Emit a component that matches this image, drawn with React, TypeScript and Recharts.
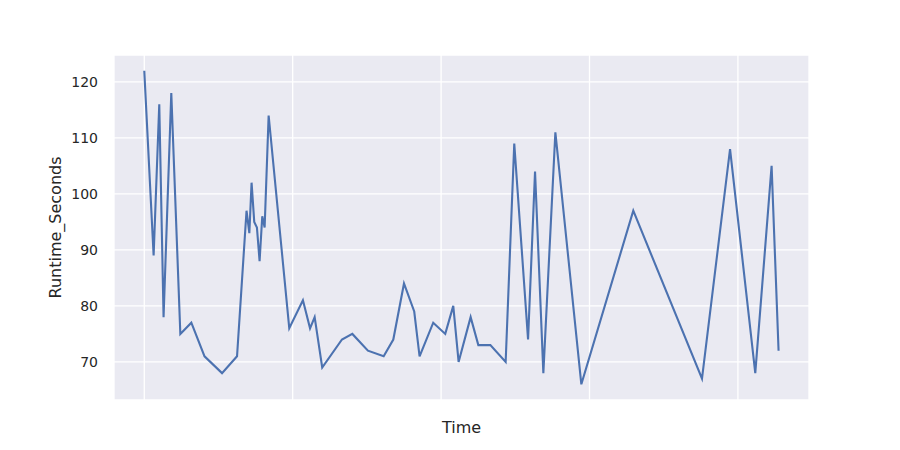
import React from "react";
import { LineChart, Line, XAxis, YAxis, CartesianGrid } from "recharts";

const time = [0, 0.063, 0.101, 0.13, 0.182, 0.243, 0.317, 0.406, 0.524, 0.625, 0.689, 0.708, 0.723, 0.741, 0.759, 0.777, 0.795, 0.811, 0.838, 0.977, 1.069, 1.117, 1.148, 1.199, 1.332, 1.402, 1.507, 1.613, 1.678, 1.75, 1.819, 1.855, 1.947, 2.028, 2.082, 2.118, 2.199, 2.251, 2.332, 2.435, 2.493, 2.586, 2.633, 2.689, 2.77, 2.945, 3.295, 3.758, 3.947, 4.117, 4.227, 4.274];

const runtimeSeconds = [122, 89, 116, 78, 118, 75, 77, 71, 68, 71, 97, 93, 102, 95, 94, 88, 96, 94, 114, 76, 81, 76, 78, 69, 74, 75, 72, 71, 74, 84, 79, 71, 77, 75, 80, 70, 78, 73, 73, 70, 109, 74, 104, 68, 111, 66, 97, 67, 108, 68, 105, 72];

const xTicks = [0, 1, 2, 3, 4];
const yTicks = [70, 80, 90, 100, 110, 120];

const data = time.map((t, i) => ({ time: t, runtime: runtimeSeconds[i] }));

const FONT = "DejaVu Sans";

const EmptyTick = () => <g />;

export default function App() {
  return (
    <div style={{ position: "absolute", left: 0, top: 0, width: 900, height: 450, background: "#ffffff" }}>
      <LineChart width={900} height={450} data={data} margin={{ top: 55, right: 91, bottom: 0, left: 0 }}>
        <CartesianGrid fill="#EAEAF2" fillOpacity={1} stroke="#ffffff" strokeWidth={1.3} />
        <XAxis
          dataKey="time"
          type="number"
          domain={[-0.204, 4.479]}
          ticks={xTicks}
          allowDataOverflow
          tick={EmptyTick}
          tickLine={false}
          axisLine={false}
          height={50}
          label={{ value: "Time", position: "insideBottom", offset: 17, fill: "#262626", fontSize: 16, fontFamily: FONT }}
        />
        <YAxis
          type="number"
          domain={[63.2, 124.8]}
          ticks={yTicks}
          allowDataOverflow
          width={114}
          tickLine={false}
          axisLine={false}
          tickSize={0}
          tickMargin={16}
          tick={{ fill: "#262626", fontSize: 14, fontFamily: FONT }}
          label={{ value: "Runtime_Seconds", angle: -90, position: "center", dx: -2, fill: "#262626", fontSize: 16, fontFamily: FONT }}
        />
        <Line
          type="linear"
          dataKey="runtime"
          stroke="#4C72B0"
          strokeWidth={2.1}
          dot={false}
          activeDot={false}
          isAnimationActive={false}
        />
      </LineChart>
    </div>
  );
}
